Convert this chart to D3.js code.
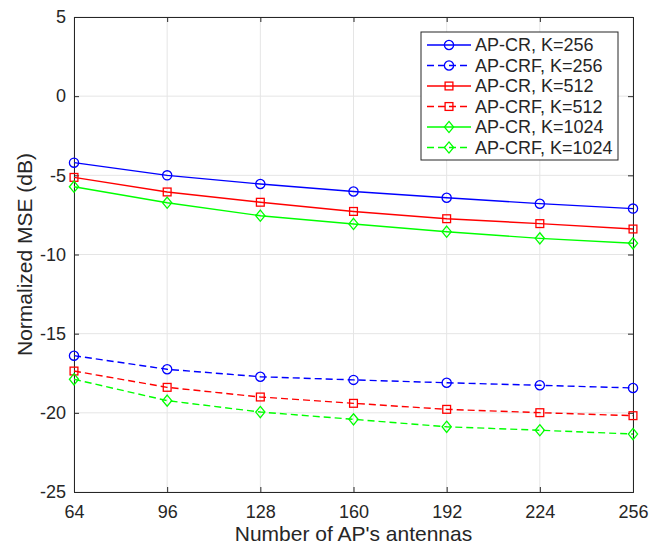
<!DOCTYPE html>
<html><head><meta charset="utf-8">
<script src="https://cdn.jsdelivr.net/npm/d3@7"></script>
<style>body{margin:0;background:#fff}svg{display:block}text{font-family:"Liberation Sans",Arial,sans-serif;fill:#262626}</style>
</head><body><svg id="c" width="652" height="548"></svg>
<script>
const antennas = [64, 96, 128, 160, 192, 224, 256];
const xTicks = [64, 96, 128, 160, 192, 224, 256];
const yTicks = [5, 0, -5, -10, -15, -20, -25];
const crK256  = [-4.2, -5.0, -5.55, -6.02, -6.42, -6.79, -7.1];
const crfK256 = [-16.39, -17.25, -17.72, -17.92, -18.1, -18.26, -18.43];
const crK512  = [-5.13, -6.05, -6.7, -7.28, -7.74, -8.05, -8.39];
const crfK512 = [-17.36, -18.39, -19.0, -19.4, -19.78, -19.99, -20.18];
const crK1024 = [-5.72, -6.73, -7.55, -8.07, -8.56, -8.98, -9.29];
const crfK1024= [-17.88, -19.23, -19.95, -20.41, -20.88, -21.1, -21.34];
const seriesNames = ["AP-CR, K=256","AP-CRF, K=256","AP-CR, K=512","AP-CRF, K=512","AP-CR, K=1024","AP-CRF, K=1024"];
const seriesValues = [crK256, crfK256, crK512, crfK512, crK1024, crfK1024];
const seriesColors = ["#0000ff","#0000ff","#ff0000","#ff0000","#00ff00","#00ff00"];
const seriesDashed = [false,true,false,true,false,true];
const seriesMarkers = ["circle","circle","square","square","diamond","diamond"];

const svg = d3.select("#c");
const L=74, R=633, T=17, B=492;
const x = d3.scaleLinear().domain([64,256]).range([L,R]);
const y = d3.scaleLinear().domain([-25,5]).range([B,T]);
const axisCol = "#262626";

// grid
const g = svg.append("g");
g.selectAll(".gx").data(xTicks).enter().append("line")
  .attr("x1",d=>x(d)).attr("x2",d=>x(d)).attr("y1",T).attr("y2",B)
  .attr("stroke","#e5e5e5").attr("stroke-width",1);
g.selectAll(".gy").data(yTicks).enter().append("line")
  .attr("y1",d=>y(d)).attr("y2",d=>y(d)).attr("x1",L).attr("x2",R)
  .attr("stroke","#e5e5e5").attr("stroke-width",1);

// axes
const ax = svg.append("g").attr("transform",`translate(0,${B})`)
  .call(d3.axisBottom(x).tickValues(xTicks).tickSize(-5).tickFormat(d3.format("d")));
const ay = svg.append("g").attr("transform",`translate(${L},0)`)
  .call(d3.axisLeft(y).tickValues(yTicks).tickSize(-5).tickPadding(8).tickFormat(d=>d<0?"-"+Math.abs(d):d));
const at = svg.append("g").attr("transform",`translate(0,${T})`)
  .call(d3.axisTop(x).tickValues(xTicks).tickSize(-5).tickFormat(""));
const ar = svg.append("g").attr("transform",`translate(${R},0)`)
  .call(d3.axisRight(y).tickValues(yTicks).tickSize(-5).tickFormat(""));
[ax,ay,at,ar].forEach(a=>{
  a.select(".domain").attr("stroke",axisCol).attr("stroke-width",1);
  a.selectAll(".tick line").attr("stroke",axisCol);
  a.selectAll(".tick text").attr("font-size",18).attr("fill",axisCol)
   .style("font-family","Liberation Sans, Arial, sans-serif");
});
ax.selectAll(".tick text").attr("y",26).attr("dy",0);

// labels
svg.append("text").attr("x",(L+R)/2).attr("y",541).attr("text-anchor","middle")
  .attr("font-size",21).text("Number of AP's antennas");
svg.append("text").attr("transform",`translate(32,${(T+B)/2}) rotate(-90)`)
  .attr("text-anchor","middle").attr("font-size",21).text("Normalized MSE (dB)");

// marker drawer
function drawMarker(sel, type, color){
  if(type==="circle"){
    sel.append("circle").attr("r",4.6).attr("fill","none").attr("stroke",color).attr("stroke-width",1.3);
  } else if(type==="square"){
    sel.append("rect").attr("x",-3.9).attr("y",-3.9).attr("width",7.8).attr("height",7.8)
      .attr("fill","none").attr("stroke",color).attr("stroke-width",1.3);
  } else {
    sel.append("path").attr("d","M0,-5.6L4.6,0L0,5.6L-4.6,0Z")
      .attr("fill","none").attr("stroke",color).attr("stroke-width",1.3);
  }
}

const line = d3.line().x((d,i)=>x(antennas[i])).y(d=>y(d));
seriesValues.forEach((vals,si)=>{
  svg.append("path").datum(vals).attr("d",line).attr("fill","none")
    .attr("stroke",seriesColors[si]).attr("stroke-width",1.4)
    .attr("stroke-dasharray",seriesDashed[si]?"7,4":null);
  vals.forEach((v,i)=>{
    const m = svg.append("g").attr("transform",`translate(${x(antennas[i])},${y(v)})`);
    drawMarker(m, seriesMarkers[si], seriesColors[si]);
  });
});

// legend
const lg = svg.append("g");
lg.append("rect").attr("x",421).attr("y",32).attr("width",197).attr("height",128)
  .attr("fill","#fff").attr("stroke",axisCol).attr("stroke-width",1);
seriesNames.forEach((n,i)=>{
  const yy = 45 + i*20.5;
  lg.append("line").attr("x1",427).attr("x2",471).attr("y1",yy).attr("y2",yy)
    .attr("stroke",seriesColors[i]).attr("stroke-width",1.4)
    .attr("stroke-dasharray",seriesDashed[i]?"7,4":null);
  const m = lg.append("g").attr("transform",`translate(449,${yy})`);
  drawMarker(m, seriesMarkers[i], seriesColors[i]);
  lg.append("text").attr("x",475).attr("y",yy).attr("dy","0.36em")
    .attr("font-size",18).attr("fill","#000").text(n);
});
</script></body></html>
